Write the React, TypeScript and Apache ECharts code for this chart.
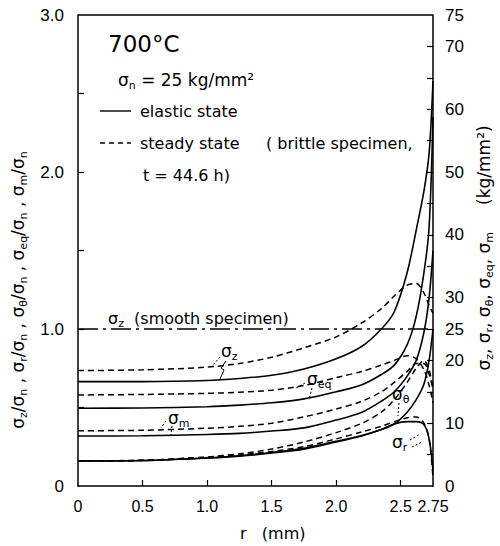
import React, { useEffect, useRef } from "react";
import * as echarts from "echarts";

// radius r (mm) grid shared by all curves
const R = [0, 0.5, 1.0, 1.25, 1.5, 1.75, 2.0, 2.2, 2.35, 2.45, 2.55, 2.62, 2.68, 2.72, 2.75];

// elastic state (solid), stress / sigma_n
const szEl = [0.665, 0.665, 0.672, 0.685, 0.705, 0.745, 0.81, 0.89, 1.0, 1.11, 1.36, 1.63, 1.88, 2.12, 2.58];
const seqEl = [0.495, 0.497, 0.505, 0.515, 0.53, 0.555, 0.6, 0.645, 0.71, 0.77, 0.9, 1.08, 1.36, 1.65, 2.35];
const smEl = [0.318, 0.32, 0.328, 0.335, 0.35, 0.37, 0.42, 0.47, 0.54, 0.6, 0.7, 0.8, 0.98, 1.2, 1.5];
const sthEl = [0.16, 0.162, 0.178, 0.193, 0.213, 0.24, 0.285, 0.322, 0.36, 0.395, 0.47, 0.55, 0.65, 0.8, 1.0];
const srEl = [0.16, 0.162, 0.178, 0.19, 0.21, 0.235, 0.28, 0.32, 0.36, 0.395, 0.41, 0.41, 0.39, 0.3, 0.1];

// steady state (dashed), stress / sigma_n
const szSt = [0.735, 0.74, 0.757, 0.78, 0.82, 0.88, 0.95, 1.04, 1.13, 1.21, 1.28, 1.29, 1.23, 1.15, 1.1];
const seqSt = [0.58, 0.583, 0.59, 0.597, 0.61, 0.64, 0.69, 0.73, 0.77, 0.8, 0.83, 0.81, 0.74, 0.64, 0.53];
const smSt = [0.352, 0.355, 0.368, 0.38, 0.4, 0.44, 0.49, 0.54, 0.6, 0.66, 0.73, 0.78, 0.78, 0.71, 0.62];
const sthSt = [0.16, 0.164, 0.185, 0.205, 0.235, 0.28, 0.34, 0.4, 0.47, 0.55, 0.66, 0.75, 0.8, 0.74, 0.62];
const srSt = [0.16, 0.163, 0.183, 0.198, 0.22, 0.25, 0.3, 0.345, 0.38, 0.41, 0.435, 0.44, 0.4, 0.3, 0.05];

// smooth specimen sigma_z / sigma_n
const smoothR = [0, 2.75];
const smoothVal = [1.0, 1.0];

const xLabels = [0, 0.5, 1.0, 1.5, 2.0, 2.5, 2.75];
const xTicks = [0.5, 1.0, 1.5, 2.0, 2.5];
const leftLabels = [0, 1, 2, 3];
const leftTicks = [0.5, 1, 1.5, 2, 2.5];
const rightLabels = [0, 10, 20, 25, 30, 40, 50, 60, 70, 75];
const rightTicks = [5, 10, 15, 20, 25, 30, 35, 40, 45, 50, 55, 60, 65, 70];

const FONT = '"DejaVu Sans", sans-serif';
const TICKFONT = '"Liberation Sans", sans-serif';

const pairs = (xs: number[], ys: number[]) => xs.map((x, i) => [x, ys[i]]);

const SUB = {
  s: { fontSize: 11, fontFamily: FONT, fill: "#000", verticalAlign: "bottom", lineHeight: 12 },
  m: { fontSize: 17, fontFamily: FONT, fill: "#000", lineHeight: 22 },
};

export default function App() {
  const ref = useRef<HTMLDivElement>(null);
  useEffect(() => {
    document.body.style.margin = "0";
    const chart = echarts.init(ref.current!, null, { renderer: "svg" });
    const solid = (name: string, ys: number[]) => ({
      name,
      type: "line",
      data: pairs(R, ys),
      smooth: 0.3,
      showSymbol: false,
      lineStyle: { color: "#000", width: 1.6, type: "solid" },
    });
    const dashed = (name: string, ys: number[]) => ({
      name,
      type: "line",
      data: pairs(R, ys),
      smooth: 0.3,
      showSymbol: false,
      lineStyle: { color: "#000", width: 1.5, type: [6, 4] },
    });
    const txt = (x: number, y: number, text: string, fontSize = 17, extra: any = {}) => ({
      type: "text",
      x,
      y,
      style: {
        text,
        fontSize,
        fontFamily: FONT,
        fill: "#000",
        verticalAlign: "middle",
        align: "left",
        rich: { s: SUB.s, m: { ...SUB.m, fontSize } },
        ...extra,
      },
    });
    const seg = (x1: number, y1: number, x2: number, y2: number, dash: any = "solid", w = 1.5) => ({
      type: "line",
      shape: { x1, y1, x2, y2 },
      style: { stroke: "#000", lineWidth: w, lineDash: dash === "solid" ? null : dash },
    });
    chart.setOption({
      animation: false,
      backgroundColor: "#fff",
      grid: { left: 78, right: 67, top: 15, bottom: 60, show: false },
      xAxis: {
        type: "value",
        min: 0,
        max: 2.75,
        axisLine: { show: true, onZero: false, lineStyle: { color: "#000", width: 1.5 } },
        axisTick: { show: true, inside: true, length: 6, customValues: xTicks, lineStyle: { color: "#000", width: 1.2 } },
        axisLabel: {
          customValues: xLabels,
          showMinLabel: true,
          showMaxLabel: true,
          hideOverlap: false,
          margin: 12,
          color: "#000",
          fontSize: 16,
          fontFamily: TICKFONT,
          formatter: (v: number) => (v === 0 ? "0" : v === 2.75 ? "2.75" : v.toFixed(1)),
        },
        splitLine: { show: false },
      },
      yAxis: [
        {
          type: "value",
          min: 0,
          max: 3,
          position: "left",
          axisLine: { show: true, onZero: false, lineStyle: { color: "#000", width: 1.5 } },
          axisTick: { show: true, inside: true, length: 6, customValues: leftTicks, lineStyle: { color: "#000", width: 1.2 } },
          axisLabel: {
            customValues: leftLabels,
            showMinLabel: true,
            showMaxLabel: true,
            margin: 14,
            color: "#000",
            fontSize: 17,
            fontFamily: TICKFONT,
            formatter: (v: number) => (v === 0 ? "0" : v.toFixed(1)),
          },
          splitLine: { show: false },
        },
        {
          type: "value",
          min: 0,
          max: 75,
          position: "right",
          axisLine: { show: true, onZero: false, lineStyle: { color: "#000", width: 1.5 } },
          axisTick: { show: true, inside: true, length: 6, customValues: rightTicks, lineStyle: { color: "#000", width: 1.2 } },
          axisLabel: {
            customValues: rightLabels,
            showMinLabel: true,
            showMaxLabel: true,
            margin: 12,
            color: "#000",
            fontSize: 17,
            fontFamily: TICKFONT,
            formatter: (v: number) => String(v),
          },
          splitLine: { show: false },
        },
      ],
      series: [
        {
          name: "smooth",
          type: "line",
          data: pairs(smoothR, smoothVal),
          showSymbol: false,
          lineStyle: { color: "#000", width: 1.4, type: [20, 5, 3, 5] },
        },
        solid("szEl", szEl),
        solid("seqEl", seqEl),
        solid("smEl", smEl),
        solid("sthEl", sthEl),
        solid("srEl", srEl),
        dashed("szSt", szSt),
        dashed("seqSt", seqSt),
        dashed("smSt", smSt),
        dashed("sthSt", sthSt),
        dashed("srSt", srSt),
      ],
      graphic: [
        // top border of the frame
        seg(78, 15, 433, 15, "solid", 1.5),
        txt(108, 44, "700°C", 23),
        txt(118, 80, "{m|σ}{s|n}{m| = 25 kg/mm²}", 17),
        seg(100, 111, 131, 111, "solid", 1.4),
        txt(140, 111, "elastic state", 16),
        seg(100, 143, 131, 143, [5, 4], 1.4),
        txt(140, 143, "steady state", 16),
        txt(266, 143, "( brittle specimen,", 16),
        txt(143, 175, "t = 44.6 h)", 16),
        txt(108, 318, "{m|σ}{s|z}{m|  (smooth specimen)}", 16),
        // curve labels with small pointers
        txt(221, 351, "{m|σ}{s|z}", 17),
        seg(220, 357, 212, 366, [2, 2], 1),
        seg(226, 361, 221, 368, "solid", 1),
        seg(221, 368, 224, 370, "solid", 1),
        seg(224, 370, 220, 379, "solid", 1),
        txt(307, 379, "{m|σ}{s|eq}", 17),
        seg(305, 383, 296, 388, [2, 2], 1),
        seg(312, 388, 309, 400, [2, 2], 1),
        txt(168, 418, "{m|σ}{s|m}", 17),
        seg(166, 421, 161, 428, [2, 2], 1),
        seg(172, 426, 171, 435, [2, 2], 1),
        txt(392, 394, "{m|σ}{s|θ}", 17),
        seg(399, 403, 398, 416, [2, 2], 1),
        txt(392, 442, "{m|σ}{s|r}", 17),
        seg(410, 440, 420, 434, [2, 2], 1),
        seg(412, 447, 422, 442, [2, 2], 1),
        // x axis title
        txt(240, 533, "r   (mm)", 16),
        // left y title
        {
          type: "text",
          x: 18,
          y: 290,
          rotation: Math.PI / 2,
          style: {
            text:
              "{m|σ}{s|z}{m|/σ}{s|n}{m| , σ}{s|r}{m|/σ}{s|n}{m| , σ}{s|θ}{m|/σ}{s|n}{m| , σ}{s|eq}{m|/σ}{s|n}{m| , σ}{s|m}{m|/σ}{s|n}",
            align: "center",
            verticalAlign: "middle",
            fontFamily: FONT,
            fontSize: 17,
            rich: SUB,
          },
        },
        // right y title
        {
          type: "text",
          x: 484,
          y: 248,
          rotation: Math.PI / 2,
          style: {
            text: "{m|σ}{s|z}{m|, σ}{s|r}{m|, σ}{s|θ}{m|, σ}{s|eq}{m|, σ}{s|m}{m|     (kg/mm²)}",
            align: "center",
            verticalAlign: "middle",
            fontFamily: FONT,
            fontSize: 17,
            rich: SUB,
          },
        },
      ],
    });
    return () => chart.dispose();
  }, []);
  return <div ref={ref} style={{ width: 500, height: 546 }} />;
}
